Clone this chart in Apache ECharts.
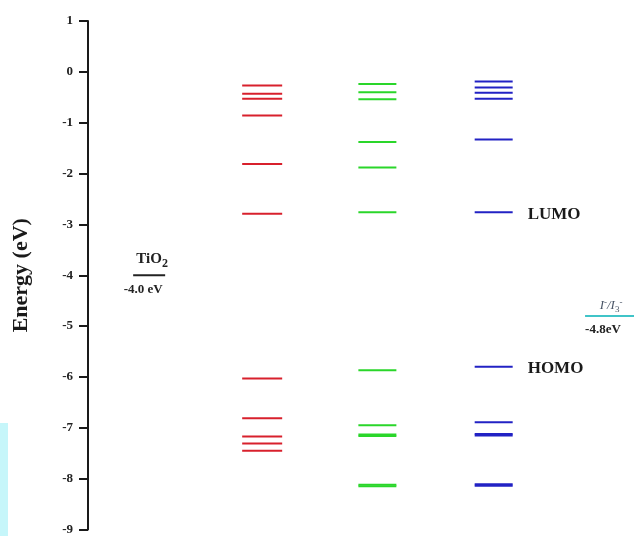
<!DOCTYPE html>
<html>
<head>
<meta charset="utf-8">
<script src="https://cdn.jsdelivr.net/npm/echarts@6/dist/echarts.min.js"></script>
<style>
  html, body { margin: 0; padding: 0; background: #fff; }
  #main { width: 634px; height: 536px; }
</style>
</head>
<body>
<div id="main"></div>
<script>
// energy axis ticks (eV)
var energyTicks = [1, 0, -1, -2, -3, -4, -5, -6, -7, -8, -9];
// reference levels
var tio2Band = [-4.0];
var redoxLevel = [-4.8];
// dye orbital levels (close pairs = degenerate, drawn thicker)
var redLevels = [-0.27, -0.43, -0.53, -0.86, -1.81, -2.79, -6.03, -6.81, -7.17, -7.31, -7.45];
var greenLevels = [-0.24, -0.40, -0.54, -1.38, -1.88, -2.76, -5.87, -6.95, -7.13, -7.16, -8.12, -8.15];
var blueLevels = [-0.19, -0.31, -0.41, -0.53, -1.33, -2.76, -5.80, -6.89, -7.12, -7.15, -8.11, -8.14];

var serif = '"Liberation Serif", "Times New Roman", serif';
var chart = echarts.init(document.getElementById('main'));

// HOMO / LUMO = the two levels around the biggest gap
var sorted = blueLevels.slice().sort(function (a, b) { return b - a; });
var gi = 0;
for (var i = 0; i < sorted.length - 1; i++) {
  if (sorted[i] - sorted[i + 1] > sorted[gi] - sorted[gi + 1]) gi = i;
}
var lumo = sorted[gi], homo = sorted[gi + 1];

function levelSeries(name, levels, xPos, half, color, width) {
  return {
    name: name,
    type: 'custom',
    clip: false,
    silent: true,
    encode: { x: 0, y: 1 },
    data: levels.map(function (e) { return [xPos, e]; }),
    renderItem: function (params, api) {
      var p = api.coord([api.value(0), api.value(1)]);
      return {
        type: 'line',
        shape: { x1: p[0] - half, y1: p[1], x2: p[0] + half, y2: p[1] },
        style: { stroke: color, lineWidth: width }
      };
    }
  };
}

var seriesList = [
  levelSeries('red', redLevels, 3.19, 20, '#d8202c', 2),
  levelSeries('green', greenLevels, 5.30, 19, '#2ad62a', 2),
  levelSeries('blue', blueLevels, 7.43, 19, '#2222c4', 2),
  {
    name: 'TiO2',
    type: 'custom',
    clip: false,
    silent: true,
    encode: { x: 0, y: 1 },
    data: tio2Band.map(function (e) { return [1.12, e]; }),
    renderItem: function (params, api) {
      var v = api.value(1);
      var p = api.coord([api.value(0), v]);
      return {
        type: 'group',
        children: [
          { type: 'line', shape: { x1: p[0] - 16, y1: p[1], x2: p[0] + 16, y2: p[1] },
            style: { stroke: '#222', lineWidth: 2 } },
          { type: 'text', x: p[0] + 3, y: p[1] - 16,
            style: {
              text: '{b|TiO}{s|2}', align: 'center', verticalAlign: 'middle', fill: '#222',
              rich: {
                b: { fontSize: 15, fontWeight: 'bold', fontFamily: serif, fill: '#222' },
                s: { fontSize: 12, fontWeight: 'bold', fontFamily: serif, fill: '#222', padding: [10, 0, 0, 0] }
              }
            } },
          { type: 'text', x: p[0] - 6, y: p[1] + 14,
            style: { text: v.toFixed(1) + ' eV', align: 'center', verticalAlign: 'middle',
              fill: '#222', font: 'bold 13px ' + serif } }
        ]
      };
    }
  },
  {
    name: 'redox',
    type: 'custom',
    clip: false,
    silent: true,
    encode: { x: 0, y: 1 },
    data: redoxLevel.map(function (e) { return [9.58, e]; }),
    renderItem: function (params, api) {
      var v = api.value(1);
      var p = api.coord([api.value(0), v]);
      return {
        type: 'group',
        children: [
          { type: 'line', shape: { x1: p[0] - 26, y1: p[1], x2: p[0] + 30, y2: p[1] },
            style: { stroke: '#40c4c8', lineWidth: 2 } },
          { type: 'text', x: p[0], y: p[1] - 10,
            style: {
              text: '{i|I}{p|-}{i|/I}{s|3}{p|-}', align: 'center', verticalAlign: 'middle',
              rich: {
                i: { fontSize: 13, fontStyle: 'italic', fontFamily: serif, fill: '#4a5566' },
                p: { fontSize: 9, fontFamily: serif, fill: '#4a5566', padding: [0, 0, 7, 0] },
                s: { fontSize: 9, fontFamily: serif, fill: '#4a5566', padding: [7, 0, 0, 0] }
              }
            } },
          { type: 'text', x: p[0] - 26, y: p[1] + 14,
            style: { text: v.toFixed(1) + 'eV', align: 'left', verticalAlign: 'middle',
              fill: '#222', font: 'bold 13px ' + serif } }
        ]
      };
    }
  },
  {
    name: 'labels',
    type: 'custom',
    clip: false,
    silent: true,
    encode: { x: 0, y: 1 },
    data: [[7.43, lumo, 'LUMO'], [7.43, homo, 'HOMO']],
    renderItem: function (params, api) {
      var p = api.coord([api.value(0), api.value(1)]);
      return {
        type: 'text', x: p[0] + 34, y: p[1] + 2,
        style: { text: api.value(2), align: 'left', verticalAlign: 'middle',
          fill: '#1a1a1a', font: 'bold 17px ' + serif }
      };
    }
  }
];

chart.setOption({
  animation: false,
  backgroundColor: '#fff',
  grid: { left: 88, right: 0, top: 21, bottom: 4 },
  xAxis: { type: 'value', min: 0, max: 10, show: false },
  yAxis: {
    type: 'value',
    min: Math.min.apply(null, energyTicks),
    max: Math.max.apply(null, energyTicks),
    interval: 1,
    name: 'Energy (eV)',
    nameLocation: 'middle',
    nameGap: 56,
    nameTextStyle: { fontSize: 22, fontWeight: 'bold', fontFamily: serif, color: '#1a1a1a' },
    axisLine: { show: true, lineStyle: { color: '#1a1a1a', width: 2 } },
    axisTick: { show: true, inside: false, length: 9, lineStyle: { color: '#1a1a1a', width: 2 } },
    axisLabel: { margin: 15, fontSize: 13, fontWeight: 'bold', fontFamily: serif, color: '#222' },
    splitLine: { show: false }
  },
  graphic: [
    { type: 'rect', left: 0, top: 423, shape: { width: 8, height: 113 },
      style: { fill: '#c6f6fa' }, silent: true }
  ],
  series: seriesList
});
</script>
</body>
</html>
